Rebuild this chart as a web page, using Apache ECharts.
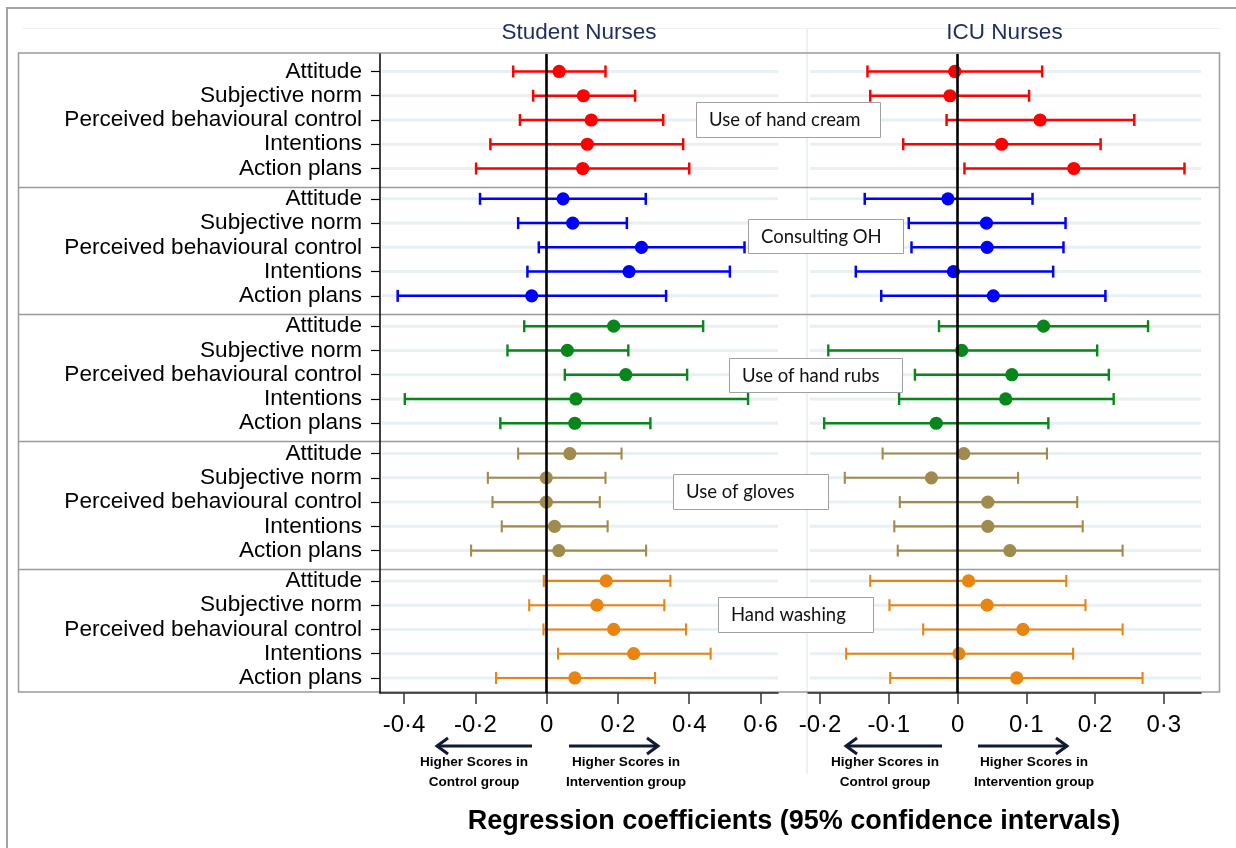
<!DOCTYPE html>
<html>
<head>
<meta charset="utf-8">
<script src="https://cdn.jsdelivr.net/npm/echarts@6/dist/echarts.min.js"></script>
<style>
html,body{margin:0;padding:0;background:#fff;}
#main{width:1236px;height:848px;}
</style>
</head>
<body>
<div id="main"></div>
<script>
// ---------- DATA ----------
const measures = ['Attitude', 'Subjective norm', 'Perceived behavioural control', 'Intentions', 'Action plans'];
const behaviours = ['Use of hand cream', 'Consulting OH', 'Use of hand rubs', 'Use of gloves', 'Hand washing'];
const panelTitles = ['Student Nurses', 'ICU Nurses'];
const studentTicks = [-0.4, -0.2, 0, 0.2, 0.4, 0.6];
const icuTicks = [-0.2, -0.1, 0, 0.1, 0.2, 0.3];

// order: behaviour blocks of 5 measures (Attitude, SN, PBC, Intentions, Action plans)
const studentEst = [
  0.035, 0.103, 0.125, 0.114, 0.101,
  0.046, 0.073, 0.266, 0.231, -0.042,
  0.188, 0.058, 0.222, 0.082, 0.079,
  0.065, -0.001, -0.001, 0.022, 0.034,
  0.167, 0.141, 0.188, 0.244, 0.079
];
const studentLower = [
  -0.094, -0.038, -0.075, -0.158, -0.198,
  -0.187, -0.080, -0.022, -0.054, -0.418,
  -0.063, -0.110, 0.051, -0.398, -0.130,
  -0.080, -0.165, -0.152, -0.126, -0.212,
  -0.008, -0.049, -0.009, 0.032, -0.142
];
const studentUpper = [
  0.165, 0.248, 0.327, 0.383, 0.400,
  0.278, 0.225, 0.555, 0.514, 0.335,
  0.439, 0.229, 0.394, 0.565, 0.291,
  0.210, 0.165, 0.149, 0.171, 0.279,
  0.347, 0.330, 0.391, 0.460, 0.304
];
const icuEst = [
  -0.004, -0.011, 0.120, 0.064, 0.169,
  -0.014, 0.042, 0.043, -0.006, 0.052,
  0.125, 0.006, 0.079, 0.070, -0.031,
  0.009, -0.038, 0.044, 0.044, 0.076,
  0.016, 0.043, 0.095, 0.002, 0.086
];
const icuLower = [
  -0.131, -0.127, -0.016, -0.079, 0.010,
  -0.135, -0.071, -0.067, -0.148, -0.111,
  -0.027, -0.188, -0.062, -0.085, -0.194,
  -0.109, -0.164, -0.084, -0.092, -0.087,
  -0.127, -0.099, -0.050, -0.162, -0.098
];
const icuUpper = [
  0.123, 0.104, 0.257, 0.208, 0.330,
  0.109, 0.157, 0.154, 0.139, 0.215,
  0.277, 0.203, 0.220, 0.227, 0.132,
  0.130, 0.088, 0.174, 0.182, 0.240,
  0.158, 0.186, 0.240, 0.168, 0.269
];

// ---------- STYLE ----------
const groupColors = ['#ff0000', '#0000ff', '#07871a', '#a08a4c', '#ea8410'];
const groupLineW = [2.5, 2.5, 2.4, 2.1, 2.1];
const FONT = "'Liberation Sans', Arial, sans-serif";
const GROUP_STEP = 5.25;

const rowPositions = [];
const rowLabels = [];
const rowGroup = [];
behaviours.forEach((b, g) => {
  measures.forEach((m, i) => {
    rowPositions.push(g * GROUP_STEP + i);
    rowLabels.push(m);
    rowGroup.push(g);
  });
});
const separators = [1, 2, 3, 4].map(g => g * GROUP_STEP - 0.5);

const fmtTick = v => (v === 0 ? '0' : String(v).replace('.', '\u00B7'));
const labelFor = v => {
  let best = 0, d = 1e9;
  rowPositions.forEach((p, k) => { if (Math.abs(p - v) < d) { d = Math.abs(p - v); best = k; } });
  return rowLabels[best];
};

const grids = [
  { left: 380, top: 54, width: 398, height: 639 },
  { left: 808, top: 54, width: 393, height: 639 }
];

function rowsSeries(idx) {
  return {
    type: 'custom', xAxisIndex: idx, yAxisIndex: idx, silent: true, z: 1,
    data: rowPositions.map(y => [0, y]),
    renderItem: (params, api) => {
      const y = api.coord([0, api.value(1)])[1];
      const cs = params.coordSys;
      return { type: 'line', shape: { x1: cs.x + 2, y1: y, x2: cs.x + cs.width, y2: y },
        style: { stroke: '#e9f0f3', lineWidth: 3 } };
    }
  };
}
function zeroSeries(idx) {
  return {
    type: 'line', xAxisIndex: idx, yAxisIndex: idx, data: [], z: 2, silent: true,
    markLine: { silent: true, symbol: ['none', 'none'], label: { show: false },
      lineStyle: { color: '#000', width: 2.6, type: 'solid' }, data: [{ xAxis: 0 }],
      animation: false }
  };
}
function errSeries(idx, lo, est, hi) {
  return {
    type: 'custom', xAxisIndex: idx, yAxisIndex: idx, z: 3,
    data: est.map((e, k) => [lo[k], e, hi[k], rowPositions[k], rowGroup[k]]),
    renderItem: (params, api) => {
      const y = api.value(3), g = api.value(4);
      const a = api.coord([api.value(0), y]);
      const m = api.coord([api.value(1), y]);
      const b = api.coord([api.value(2), y]);
      const col = groupColors[g], lw = groupLineW[g];
      const st = { stroke: col, lineWidth: lw };
      return { type: 'group', children: [
        { type: 'line', shape: { x1: a[0], y1: a[1], x2: b[0], y2: b[1] }, style: st },
        { type: 'line', shape: { x1: a[0], y1: a[1] - 6, x2: a[0], y2: a[1] + 6 }, style: st },
        { type: 'line', shape: { x1: b[0], y1: b[1] - 6, x2: b[0], y2: b[1] + 6 }, style: st },
        { type: 'circle', shape: { cx: m[0], cy: m[1], r: 6.6 }, style: { fill: col } }
      ] };
    }
  };
}

function xAxis(idx, ticks, min, max) {
  return {
    type: 'value', gridIndex: idx, min: min, max: max, position: 'bottom',
    axisLine: { show: true, onZero: false, lineStyle: { color: '#222', width: 1.5 } },
    axisTick: { show: true, customValues: ticks, length: 11, lineStyle: { color: '#333', width: 1.5 } },
    axisLabel: { customValues: ticks, formatter: fmtTick, fontSize: 24, fontFamily: FONT, color: '#000', margin: 20 },
    splitLine: { show: false }
  };
}
function yAxis(idx, show) {
  return {
    type: 'value', gridIndex: idx, inverse: true, min: -0.72, max: 25.62,
    axisLine: { show: show, onZero: false, lineStyle: { color: '#000', width: 1.5 } },
    axisTick: { show: show, customValues: rowPositions, length: 9, lineStyle: { color: '#000', width: 1.2 } },
    axisLabel: { show: show, customValues: rowPositions, formatter: labelFor, fontSize: 22.6,
      fontFamily: FONT, color: '#000', margin: 18 },
    splitLine: { show: false }
  };
}

const chart = echarts.init(document.getElementById('main'), null, { renderer: 'canvas' });
chart.setOption({
  animation: false,
  backgroundColor: '#fff',
  grid: grids,
  xAxis: [xAxis(0, studentTicks, -0.4676, 0.649), xAxis(1, icuTicks, -0.2175, 0.354)],
  yAxis: [yAxis(0, true), yAxis(1, false)],
  series: [
    rowsSeries(0), rowsSeries(1), zeroSeries(0), zeroSeries(1),
    errSeries(0, studentLower, studentEst, studentUpper),
    errSeries(1, icuLower, icuEst, icuUpper)
  ]
});

// ---------- annotations ----------
const g = [];
const GRAY = '#9a9a9a';
// outer border
g.push({ type: 'polyline', z: 0, shape: { points: [[7, 848], [7, 8], [1236, 8]] }, style: { stroke: '#a3a3a3', lineWidth: 2, fill: null } });
// faint plot-region lines
g.push({ type: 'line', z: 0, shape: { x1: 22, y1: 28.5, x2: 1220, y2: 28.5 }, style: { stroke: '#eef2f4', lineWidth: 1 } });
g.push({ type: 'line', z: 0, shape: { x1: 807, y1: 28, x2: 807, y2: 774 }, style: { stroke: '#e4ecf0', lineWidth: 1.5 } });
// frame
g.push({ type: 'rect', z: 0, shape: { x: 18.5, y: 53, width: 1201, height: 639 }, style: { stroke: GRAY, lineWidth: 1.5, fill: null } });
separators.forEach(v => {
  const y = Math.round(chart.convertToPixel({ yAxisIndex: 0 }, v)) + 0.5;
  g.push({ type: 'line', z: 0, shape: { x1: 18, y1: y, x2: 1219, y2: y }, style: { stroke: GRAY, lineWidth: 1.5 } });
});
// panel titles
grids.forEach((gr, i) => {
  g.push({ type: 'text', z: 10, x: gr.left + gr.width / 2, y: 33,
    style: { text: panelTitles[i], fill: '#1f2d5c', font: '22.5px ' + FONT, textAlign: 'center', textVerticalAlign: 'middle' } });
});
// behaviour boxes
const boxes = [
  { x: 696, y: 102, w: 184, h: 35 },
  { x: 748, y: 219, w: 155, h: 34 },
  { x: 729, y: 358, w: 173, h: 34 },
  { x: 673, y: 474, w: 155, h: 35 },
  { x: 718, y: 597, w: 155, h: 35 }
];
boxes.forEach((bx, i) => {
  g.push({ type: 'rect', z: 20, shape: { x: bx.x + 0.5, y: bx.y + 0.5, width: bx.w, height: bx.h },
    style: { fill: '#fff', stroke: '#a0a0a0', lineWidth: 1 } });
  g.push({ type: 'text', z: 21, x: bx.x + 13, y: bx.y + bx.h / 2 + 1,
    style: { text: behaviours[i], fill: '#111', font: '18.5px Lato, "Open Sans", sans-serif', textVerticalAlign: 'middle' } });
});
// arrows
const ARROW = '#111a33';
function arrow(x1, x2, y) {
  const dir = x2 > x1 ? 1 : -1;
  g.push({ type: 'line', z: 10, shape: { x1: x1, y1: y, x2: x2 - dir * 1, y2: y }, style: { stroke: ARROW, lineWidth: 3 } });
  g.push({ type: 'polyline', z: 10, shape: { points: [[x2 - dir * 11, y - 8], [x2, y], [x2 - dir * 11, y + 8]] },
    style: { stroke: ARROW, lineWidth: 3, fill: null } });
}
arrow(532, 437, 746); arrow(569, 658, 746);
arrow(942, 846, 746); arrow(978, 1067, 746);
const subTexts = [
  { x: 474, t: 'Higher Scores in\nControl group' },
  { x: 626, t: 'Higher Scores in\nIntervention group' },
  { x: 885, t: 'Higher Scores in\nControl group' },
  { x: 1034, t: 'Higher Scores in\nIntervention group' }
];
subTexts.forEach(s => {
  g.push({ type: 'text', z: 10, x: s.x, y: 752,
    style: { text: s.t, fill: '#000', font: 'bold 13.6px ' + FONT, textAlign: 'center', textVerticalAlign: 'top', lineHeight: 20 } });
});
// axis title
g.push({ type: 'text', z: 10, x: 794, y: 822,
  style: { text: 'Regression coefficients (95% confidence intervals)', fill: '#000', font: 'bold 27px ' + FONT,
    textAlign: 'center', textVerticalAlign: 'middle' } });

chart.setOption({ graphic: { elements: g } });
</script>
</body>
</html>
